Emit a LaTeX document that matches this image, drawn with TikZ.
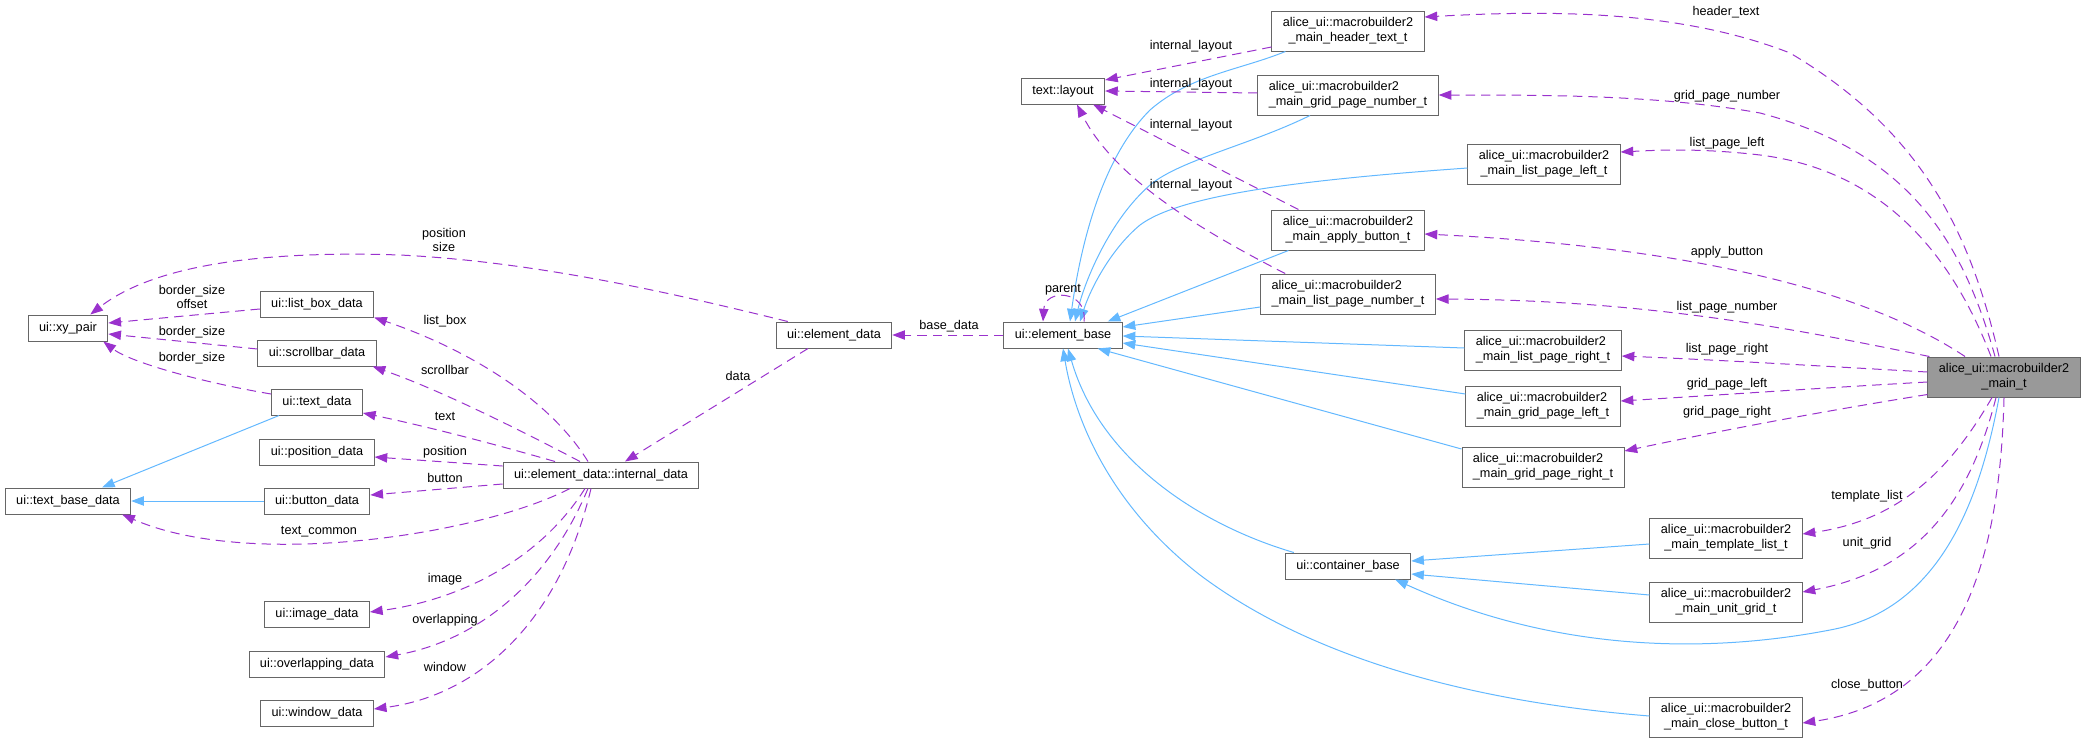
\documentclass[tikz,border=0pt]{standalone}
\usepackage{fontspec}
\setmainfont{Liberation Sans}
\usetikzlibrary{arrows.meta,calc}
\definecolor{edgepurple}{HTML}{9A32CD}
\definecolor{edgeblue}{HTML}{63B8FF}
\definecolor{boxborder}{HTML}{666666}
\definecolor{mainfill}{HTML}{999999}
\newcommand{\twoline}[2]{\begin{tabular}{@{}c@{}}\multicolumn{1}{@{}l@{}}{#1}\\#2\end{tabular}}
\newcommand{\mbname}{alice\_ui::macrobuilder2}
\tikzset{
 cls/.style={draw=boxborder, line width=0.75pt, fill=white, font=\fontsize{9.5pt}{10.75pt}\selectfont, inner xsep=8.2pt, inner ysep=0pt, minimum height=19.5pt},
 cls2/.style={cls, minimum height=30pt},
 lbl/.style={font=\fontsize{9.5pt}{10.75pt}\selectfont, inner sep=0pt, align=center},
 uses/.style={draw=edgepurple, line width=0.75pt, dash pattern=on 7pt off 4.5pt, -{Triangle[length=9.5pt,width=7pt]}},
 inh/.style={draw=edgeblue, line width=0.75pt, -{Triangle[length=9.5pt,width=7pt]}},
}
\begin{document}
\begin{tikzpicture}[x=0.75pt,y=-0.75pt]
\useasboundingbox (0,0) rectangle (2087,743);
% nodes
\node[cls] (xy) at (68,328) {ui::xy\_pair};
\node[cls] (tbd) at (68,501) {ui::text\_base\_data};
\node[cls] (lbd) at (317,304) {ui::list\_box\_data};
\node[cls] (sbd) at (317,353) {ui::scrollbar\_data};
\node[cls] (td) at (317,402) {ui::text\_data};
\node[cls] (pd) at (317,452) {ui::position\_data};
\node[cls] (bd) at (317,501) {ui::button\_data};
\node[cls] (imd) at (317,614) {ui::image\_data};
\node[cls] (ovd) at (317,664) {ui::overlapping\_data};
\node[cls] (wd) at (317,713) {ui::window\_data};
\node[cls] (idata) at (601,475) {ui::element\_data::internal\_data};
\node[cls] (edata) at (834,335) {ui::element\_data};
\node[cls] (ebase) at (1063,335) {ui::element\_base};
\node[cls] (layout) at (1063,91) {text::layout};
\node[cls2] (ht) at (1348,31) {\twoline{\mbname}{\_main\_header\_text\_t}};
\node[cls2] (gpn) at (1348,95) {\twoline{\mbname}{\_main\_grid\_page\_number\_t}};
\node[cls2] (lpl) at (1544,164) {\twoline{\mbname}{\_main\_list\_page\_left\_t}};
\node[cls2] (ab) at (1348,230) {\twoline{\mbname}{\_main\_apply\_button\_t}};
\node[cls2] (lpn) at (1348,294) {\twoline{\mbname}{\_main\_list\_page\_number\_t}};
\node[cls2] (lpr) at (1543,350) {\twoline{\mbname}{\_main\_list\_page\_right\_t}};
\node[cls2] (gpl) at (1543,406) {\twoline{\mbname}{\_main\_grid\_page\_left\_t}};
\node[cls2] (gpr) at (1543,467) {\twoline{\mbname}{\_main\_grid\_page\_right\_t}};
\node[cls] (cb) at (1348,566) {ui::container\_base};
\node[cls2] (tl) at (1726,538) {\twoline{\mbname}{\_main\_template\_list\_t}};
\node[cls2] (ug) at (1726,602) {\twoline{\mbname}{\_main\_unit\_grid\_t}};
\node[cls2] (cbtn) at (1726,717) {\twoline{\mbname}{\_main\_close\_button\_t}};
\node[cls2, fill=mainfill] (main) at (2004,377) {\twoline{\mbname}{\_main\_t}};

% inheritance (blue)
\draw[inh] ($(ht.south west)+(14,0)$) .. controls (1240,70) and (1190,75) .. (1150,110) .. controls (1100,160) and (1080,250) .. ($(ebase.north)+(7,0)$);
\draw[inh] ($(gpn.south)+(-38,0)$) .. controls (1250,145) and (1180,160) .. (1150,185) .. controls (1110,220) and (1085,280) .. ($(ebase.north)+(12,0)$);
\draw[inh] ($(lpl.west)+(0,4)$) .. controls (1300,180) and (1180,195) .. (1140,225) .. controls (1110,250) and (1090,290) .. ($(ebase.north)+(17,0)$);
\draw[inh] ($(ab.south west)+(17,0)$) -- ($(ebase.north east)+(-15,0)$);
\draw[inh] ($(lpn.west)+(0,13)$) -- ($(ebase.east)+(0,-8)$);
\draw[inh] ($(lpr.west)+(0,-2)$) -- ($(ebase.east)+(0,1)$);
\draw[inh] ($(gpl.west)+(0,-12)$) -- ($(ebase.east)+(0,8)$);
\draw[inh] ($(gpr.west)+(0,-18)$) -- ($(ebase.south east)+(-25,0)$);
\draw[inh] ($(cb.north west)+(9,0)$) .. controls (1200,525) and (1100,460) .. ($(ebase.south)+(5,0)$);
\draw[inh] ($(cbtn.west)+(0,-1)$) .. controls (1450,700) and (1300,650) .. (1200,575) .. controls (1110,505) and (1075,420) .. (ebase.south);
\draw[inh] ($(td.south west)+(8,0)$) -- ($(tbd.north)+(34,0)$);
\draw[inh] (bd.west) -- (tbd.east);
\draw[inh] ($(tl.west)+(0,6)$) -- ($(cb.east)+(0,-5)$);
\draw[inh] ($(ug.west)+(0,-7)$) -- ($(cb.east)+(0,8)$);
\draw[inh] ($(main.south)+(-5,0)$) .. controls (1980,500) and (1940,610) .. (1830,630) .. controls (1700,655) and (1550,650) .. ($(cb.south east)+(-16,0)$);

% usage (purple dashed)
\draw[uses] ($(edata.north west)+(12,0)$) .. controls (680,295) and (540,262) .. (400,255) .. controls (250,250) and (150,268) .. ($(xy.north east)+(-18,0)$);
\draw[uses] ($(lbd.west)+(0,5)$) -- ($(xy.east)+(0,-5)$);
\draw[uses] ($(sbd.west)+(0,-4)$) -- ($(xy.east)+(0,6)$);
\draw[uses] ($(td.west)+(0,-8)$) .. controls (200,382) and (130,362) .. ($(xy.south east)+(-5,0)$);
\draw[uses] ($(idata.north)+(-13,0)$) .. controls (550,400) and (470,350) .. (lbd.south east);
\draw[uses] ($(idata.north)+(-21,0)$) .. controls (520,430) and (440,390) .. ($(sbd.south east)+(-4,0)$);
\draw[uses] ($(idata.north)+(-46,0)$) .. controls (480,440) and (420,425) .. ($(td.east)+(0,11)$);
\draw[uses] ($(idata.west)+(0,-9)$) -- ($(pd.east)+(0,5)$);
\draw[uses] ($(idata.west)+(0,9)$) -- ($(bd.east)+(0,-6)$);
\draw[uses] ($(idata.south)+(-31,0)$) .. controls (480,535) and (250,570) .. ($(tbd.south east)+(-9,0)$);
\draw[uses] ($(idata.south)+(-16,0)$) .. controls (540,560) and (460,600) .. ($(imd.east)+(0,-2)$);
\draw[uses] ($(idata.south)+(-13,0)$) .. controls (550,580) and (480,640) .. ($(ovd.east)+(0,-7)$);
\draw[uses] ($(idata.south)+(-10,0)$) .. controls (560,620) and (480,695) .. ($(wd.east)+(0,-4)$);
\draw[uses] ($(edata.south)+(-26,0)$) -- ($(idata.north)+(24,0)$);
\draw[uses] (ebase.west) -- (edata.east);
\draw[uses] ($(ebase.north)+(21,0)$) .. controls (1088,290) and (1045,288) .. ($(ebase.north)+(-20,0)$);
\draw[uses] ($(ht.west)+(0,16)$) -- ($(layout.east)+(0,-11)$);
\draw[uses] ($(gpn.west)+(0,-2)$) -- (layout.east);
\draw[uses] ($(ab.north west)+(27,0)$) -- ($(layout.south east)+(-12,0)$);
\draw[uses] ($(lpn.north west)+(25,0)$) .. controls (1180,220) and (1110,170) .. ($(layout.south)+(14,0)$);
\draw[uses] ($(main.north)+(-5,0)$) .. controls (1970,230) and (1920,130) .. (1790,53) .. controls (1680,10) and (1550,10) .. ($(ht.east)+(0,-14)$);
\draw[uses] ($(main.north)+(-9,0)$) .. controls (1960,230) and (1900,150) .. (1760,113) .. controls (1660,95) and (1550,95) .. (gpn.east);
\draw[uses] ($(main.north)+(-13,0)$) .. controls (1950,250) and (1880,170) .. (1760,155) .. controls (1700,148) and (1660,150) .. ($(lpl.east)+(0,-12)$);
\draw[uses] ($(main.north)+(-39,0)$) .. controls (1850,280) and (1650,245) .. ($(ab.east)+(0,4)$);
\draw[uses] ($(main.north west)+(2,0)$) .. controls (1800,330) and (1650,300) .. ($(lpn.east)+(0,5)$);
\draw[uses] ($(main.west)+(0,-5)$) .. controls (1820,366) and (1720,360) .. ($(lpr.east)+(0,6)$);
\draw[uses] ($(main.west)+(0,5)$) .. controls (1820,388) and (1720,395) .. ($(gpl.east)+(0,-5)$);
\draw[uses] ($(main.south west)+(0,-3)$) .. controls (1800,415) and (1700,435) .. ($(gpr.east)+(0,-16)$);
\draw[uses] ($(main.south)+(-12,0)$) .. controls (1950,470) and (1900,520) .. ($(tl.east)+(0,-4)$);
\draw[uses] ($(main.south)+(-8,0)$) .. controls (1970,500) and (1920,570) .. ($(ug.east)+(0,-10)$);
\draw[uses] (main.south) .. controls (2000,560) and (1960,700) .. ($(cbtn.east)+(0,6)$);

% edge labels
\node[lbl] (l1) at (1726,12) {header\_text};
\node[lbl] (l2) at (1727,96) {grid\_page\_number};
\node[lbl] (l3) at (1727,143) {list\_page\_left};
\node[lbl] (l4) at (1727,252) {apply\_button};
\node[lbl] (l5) at (1727,307) {list\_page\_number};
\node[lbl] (l6) at (1727,349) {list\_page\_right};
\node[lbl] (l7) at (1727,384) {grid\_page\_left};
\node[lbl] (l8) at (1727,412) {grid\_page\_right};
\node[lbl] (l9) at (1867,496) {template\_list};
\node[lbl] (l10) at (1867,543) {unit\_grid};
\node[lbl] (l11) at (1867,685) {close\_button};
\node[lbl] (l12) at (1191,46) {internal\_layout};
\node[lbl] (l13) at (1191,84) {internal\_layout};
\node[lbl] (l14) at (1191,125) {internal\_layout};
\node[lbl] (l15) at (1191,185) {internal\_layout};
\node[lbl] (l16) at (1063,290) {parent};
\node[lbl] (l17) at (949,326) {base\_data};
\node[lbl] (l18) at (738,376) {data};
\node[lbl] (l19) at (444,240) {position\\size};
\node[lbl] (l20) at (192,297) {border\_size\\offset};
\node[lbl] (l21) at (192,332) {border\_size};
\node[lbl] (l22) at (192,358) {border\_size};
\node[lbl] (l23) at (445,321) {list\_box};
\node[lbl] (l24) at (445,370) {scrollbar};
\node[lbl] (l25) at (445,416) {text};
\node[lbl] (l26) at (445,452) {position};
\node[lbl] (l27) at (445,478) {button};
\node[lbl] (l28) at (319,532) {text\_common};
\node[lbl] (l29) at (445,579) {image};
\node[lbl] (l30) at (445,620) {overlapping};
\node[lbl] (l31) at (445,667) {window};
\end{tikzpicture}
\end{document}
